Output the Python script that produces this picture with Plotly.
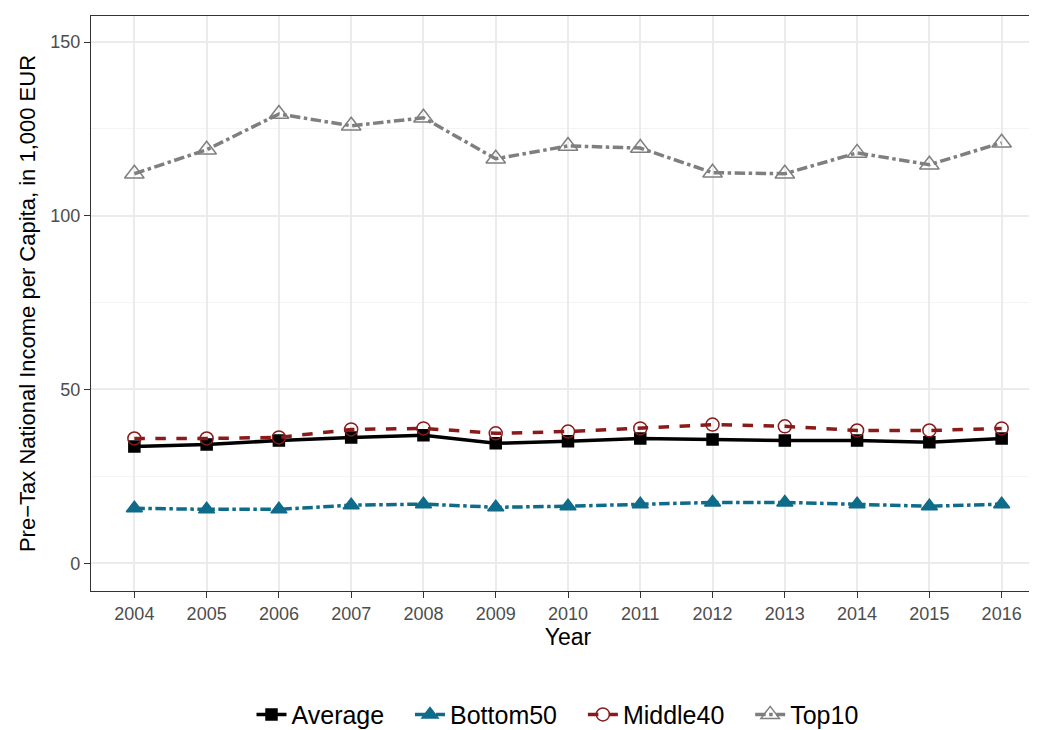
import plotly.graph_objects as go

years = list(range(2004, 2017))
average = [33.6, 34.2, 35.3, 36.2, 36.8, 34.5, 35.1, 35.9, 35.6, 35.3, 35.3, 34.8, 35.9]
bottom50 = [15.8, 15.5, 15.5, 16.7, 17.0, 16.1, 16.4, 17.0, 17.5, 17.5, 17.0, 16.4, 17.0]
middle40 = [35.9, 35.9, 36.2, 38.5, 38.8, 37.4, 37.9, 38.8, 39.9, 39.4, 38.2, 38.2, 38.8]
top10 = [112.1, 119.0, 129.3, 125.9, 128.2, 116.4, 120.1, 119.5, 112.4, 112.1, 118.1, 114.7, 121.0]

fig = go.Figure()
specs = [
    ("Average", average, "black", "solid", "square", 11),
    ("Bottom50", bottom50, "#0f6b8a", "dashdot", "triangle-up", 14),
    ("Middle40", middle40, "#8b1a1a", "dash", "circle-open", 13),
    ("Top10", top10, "#7f7f7f", "dashdot", "triangle-up-open", 17),
]
for name, ys, c, d, sym, sz in specs:
    fig.add_trace(go.Scatter(x=years, y=ys, name=name + "   ", mode="lines+markers",
                             line=dict(color=c, width=3.5, dash=d),
                             marker=dict(symbol=sym, size=sz, color=c, line=dict(color=c, width=1.5))))

fig.update_layout(
    width=1037, height=730, template="none", paper_bgcolor="white", plot_bgcolor="white",
    margin=dict(l=83, r=0, t=8, b=101),
    font=dict(family="Liberation Sans, Arial", size=20, color="black"),
    legend=dict(orientation="h", x=0.5, xanchor="center", y=-0.175, yanchor="top", font=dict(size=25)),
    xaxis=dict(title=dict(text="Year", font=dict(size=23), standoff=4), tickmode="array", tickvals=years,
               range=[2003.4, 2016.6], showgrid=True, gridcolor="#ebebeb", gridwidth=1.5,
               ticks="outside", ticklen=6, tickcolor="#333", tickfont=dict(color="#4d4d4d", size=18),
               showline=True, mirror=True, linecolor="#333", linewidth=1.2, zeroline=False, automargin=False),
    yaxis=dict(title=dict(text="Pre−Tax National Income per Capita, in 1,000 EUR", font=dict(size=22), standoff=8),
               tickvals=[0, 50, 100, 150], range=[-8, 157.5], showgrid=True, gridcolor="#ebebeb", gridwidth=1.5,
               minor=dict(tickvals=[25, 75, 125], showgrid=True, gridcolor="#f4f4f4", gridwidth=1),
               ticks="outside", ticklen=6, tickcolor="#333", tickfont=dict(color="#4d4d4d", size=18),
               showline=True, mirror=True, linecolor="#333", linewidth=1.2, zeroline=False, automargin=False),
)
fig.write_html("out.html")
